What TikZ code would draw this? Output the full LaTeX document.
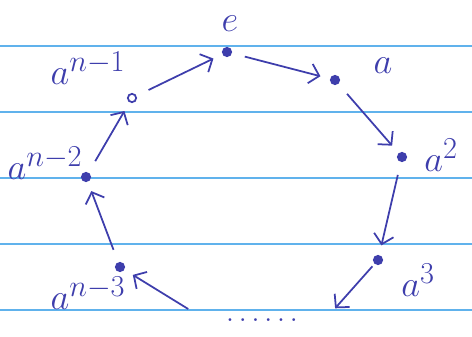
\documentclass[tikz,border=0pt]{standalone}
\usepackage{tikz}
\usetikzlibrary{arrows.meta}
\definecolor{ink}{RGB}{62,62,172}
\definecolor{ruling}{RGB}{96,178,236}
\tikzset{every picture/.style={line width=1.5pt}}

\begin{document}
\begin{tikzpicture}[x=0.03cm, y=-0.03cm,
  pt/.style={circle,fill=ink,draw=ink,inner sep=0pt,minimum size=0.25cm},
  lbl/.style={text=ink,font=\Huge,scale=1.25},
  hop/.style={draw=ink,-{Straight Barb[length=8pt,width=17pt]},shorten <=0.4cm,shorten >=0.3cm}]
\useasboundingbox (0,0) rectangle (472,337);
% ruled paper
\foreach \y in {46,112,178,244,310} {
\draw[ruling,line width=2.4pt] (0,\y) -- (472,\y);
}
% the elements
\node (e) at (227,52) [pt] {};
\node (a1) at (335,80) [pt] {};
\node (a2) at (402,157) [pt] {};
\node (a3) at (378,260) [pt] {};
\node (dots) at (262,320) [text=ink,minimum width=4.2cm,minimum height=0.5cm,font=\Huge] {$\ldots\ldots$};
\node (n3) at (120,267) [pt] {};
\node (n2) at (86,177) [pt] {};
\node (n1) at (132,98) [pt,fill=white] {};
% labels
\node (le) at (230,24) [lbl] {$e$};
\node (la1) at (383,66) [lbl] {$a$};
\node (la2) at (441,155) [lbl] {$a^2$};
\node (la3) at (418,280) [lbl] {$a^3$};
\node (ln3) at (88,293) [lbl] {$a^{n-3}$};
\node (ln2) at (45,163) [lbl] {$a^{n-2}$};
\node (ln1) at (88,68) [lbl] {$a^{n-1}$};
% the cycle
\draw[hop] (e) -- (a1);
\draw[hop] (a1) -- (a2);
\draw[hop] (a2) -- (a3);
\draw[hop,shorten <=0.1cm,shorten >=0.1cm] (a3) -- (dots.north east);
\draw[hop,shorten <=0.1cm] (dots.north west) -- (n3);
\draw[hop] (n3) -- (n2);
\draw[hop] (n2) -- (n1);
\draw[hop] (n1) -- (e);
\end{tikzpicture}
\end{document}
